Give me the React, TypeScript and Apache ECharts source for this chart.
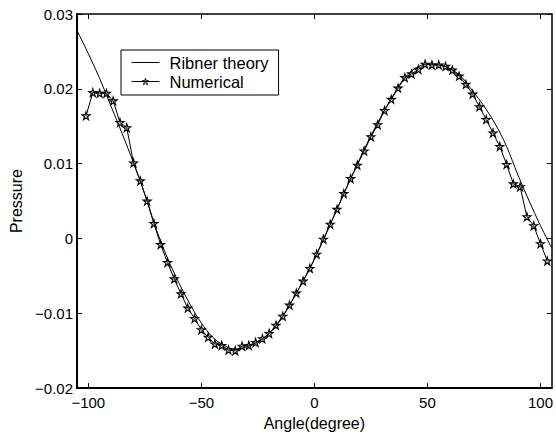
import React, { useEffect, useRef } from "react";
import * as echarts from "echarts";

// Ribner theory (smooth curve)
const theoryX = [-105, -100, -95, -90, -85, -80, -75, -70, -65, -60, -55, -50, -45, -40, -35, -30, -25, -20, -15, -10, -5, 0, 5, 10, 15, 20, 25, 30, 35, 40, 45, 50, 55, 60, 65, 70, 75, 80, 85, 90, 95, 100, 105];
const theoryY = [0.0278, 0.0247, 0.0214, 0.0177, 0.014, 0.0101, 0.0059, 0.0013, -0.0026, -0.0059, -0.0088, -0.0113, -0.0132, -0.0143, -0.0148, -0.0145, -0.0138, -0.0127, -0.0109, -0.0084, -0.0057, -0.0028, 0.0005, 0.0039, 0.0073, 0.0106, 0.0137, 0.0166, 0.0192, 0.0215, 0.0228, 0.0233, 0.0232, 0.0227, 0.0216, 0.0197, 0.0177, 0.0153, 0.0123, 0.0085, 0.005, 0.0017, -0.0013];

// Numerical results (stars)
const numX = [-101, -98, -95, -92, -89, -86, -83, -80, -77, -74, -71, -68, -65, -62, -59, -56, -53, -50, -47, -44, -41, -38, -35, -32, -29, -26, -23, -20, -17, -14, -11, -8, -5, -2, 1, 4, 7, 10, 13, 16, 19, 22, 25, 28, 31, 34, 37, 40, 43, 46, 49, 52, 55, 58, 61, 64, 67, 70, 73, 76, 79, 82, 85, 88, 91, 94, 97, 100, 103];
const numY = [0.0164, 0.0195, 0.0194, 0.0194, 0.0184, 0.0155, 0.0148, 0.0101, 0.0077, 0.005, 0.002, -0.0008, -0.0032, -0.0054, -0.0074, -0.0093, -0.0107, -0.0122, -0.0132, -0.0141, -0.0143, -0.0149, -0.015, -0.0144, -0.0143, -0.0139, -0.0134, -0.0127, -0.0116, -0.0104, -0.0089, -0.0073, -0.0057, -0.004, -0.0021, -0.0001, 0.0019, 0.0039, 0.006, 0.008, 0.0098, 0.0117, 0.0136, 0.0152, 0.0171, 0.0186, 0.0201, 0.0215, 0.022, 0.0226, 0.0233, 0.0232, 0.0232, 0.023, 0.0225, 0.0217, 0.0206, 0.0193, 0.0176, 0.0159, 0.0141, 0.0123, 0.0099, 0.0073, 0.0069, 0.0029, 0.0017, -0.0007, -0.003];

const xTicks = [-100, -50, 0, 50, 100];
const seriesNames = ["Ribner theory", "Numerical"];

const FONT = "Liberation Sans, Arial, Helvetica, sans-serif";
const STAR = "path://M50,0 L61.2,34.5 L97.6,34.5 L68.2,55.9 L79.4,90.5 L50,69.1 L20.6,90.5 L31.8,55.9 L2.4,34.5 L38.8,34.5 Z";

const fmtY = (v: number) => {
  if (Math.abs(v) < 1e-9) return "0";
  return (v < 0 ? "\u2212" : "") + Math.abs(v).toFixed(2);
};
const fmtX = (v: number) => (v < 0 ? "\u2212" : "") + Math.abs(Math.round(v));

export default function App() {
  const ref = useRef<HTMLDivElement>(null);
  useEffect(() => {
    document.body.style.margin = "0";
    if (!ref.current) return;
    const chart = echarts.init(ref.current, undefined, { renderer: "svg" });
    const mainLine = { show: true, onZero: false, lineStyle: { color: "#000", width: 2 } };
    const sideLine = { show: true, onZero: false, lineStyle: { color: "#000", width: 1.5 } };
    const tick = { show: true, inside: true, length: 5, lineStyle: { color: "#000", width: 1 } };
    chart.setOption({
      animation: false,
      backgroundColor: "#fff",
      textStyle: { fontFamily: FONT, color: "#000" },
      grid: { left: 77, right: 2, top: 14, bottom: 47, containLabel: false },
      legend: {
        data: [
          { name: seriesNames[0], itemStyle: { opacity: 0 }, lineStyle: { width: 1, color: "#000" } },
          {
            name: seriesNames[1],
            itemStyle: { color: "rgba(255,255,255,0)", borderColor: "#000", borderWidth: 1 },
            lineStyle: { width: 1, color: "#000" },
          },
        ],
        orient: "vertical",
        left: 121,
        top: 50,
        itemWidth: 28,
        itemHeight: 8,
        itemGap: 2,
        padding: [4, 10, 5, 10],
        borderColor: "#000",
        borderWidth: 1,
        backgroundColor: "#fff",
        textStyle: { fontFamily: FONT, fontSize: 16.5, color: "#000", padding: [0, 0, 0, 5] },
      },
      xAxis: [
        {
          type: "value",
          min: -105,
          max: 105,
          position: "bottom",
          name: "Angle(degree)",
          nameLocation: "middle",
          nameGap: 23,
          nameTextStyle: { fontSize: 16, color: "#000", fontFamily: FONT },
          axisLine: mainLine,
          splitLine: { show: false },
          axisTick: { ...tick, customValues: xTicks },
          axisLabel: { show: true, customValues: xTicks, formatter: fmtX, fontSize: 15, color: "#000", margin: 7, fontFamily: FONT },
        },
        {
          type: "value",
          min: -105,
          max: 105,
          position: "top",
          axisLine: sideLine,
          splitLine: { show: false },
          axisTick: { ...tick, customValues: xTicks },
          axisLabel: { show: false },
        },
      ],
      yAxis: [
        {
          type: "value",
          min: -0.02,
          max: 0.03,
          interval: 0.01,
          position: "left",
          name: "Pressure",
          nameLocation: "middle",
          nameGap: 52,
          nameTextStyle: { fontSize: 16, color: "#000", fontFamily: FONT },
          axisLine: mainLine,
          splitLine: { show: false },
          axisTick: tick,
          axisLabel: { show: true, formatter: fmtY, fontSize: 15, color: "#000", margin: 4, fontFamily: FONT },
        },
        {
          type: "value",
          min: -0.02,
          max: 0.03,
          interval: 0.01,
          position: "right",
          axisLine: sideLine,
          splitLine: { show: false },
          axisTick: tick,
          axisLabel: { show: false },
        },
      ],
      series: [
        {
          name: seriesNames[0],
          type: "line",
          xAxisIndex: 0,
          yAxisIndex: 0,
          data: theoryX.map((x, i) => [x, theoryY[i]]),
          symbol: "none",
          smooth: 0.35,
          lineStyle: { color: "#000", width: 1 },
          itemStyle: { color: "#000" },
          clip: true,
        },
        {
          name: seriesNames[1],
          type: "line",
          xAxisIndex: 0,
          yAxisIndex: 0,
          data: numX.map((x, i) => [x, numY[i]]),
          symbol: STAR,
          symbolSize: 8,
          showAllSymbol: true,
          lineStyle: { color: "#000", width: 1 },
          itemStyle: { color: "rgba(120,120,120,0.35)", borderColor: "#000", borderWidth: 1.1 },
          clip: true,
        },
      ],
    });
    return () => chart.dispose();
  }, []);
  return <div ref={ref} style={{ width: 556, height: 436 }} />;
}
